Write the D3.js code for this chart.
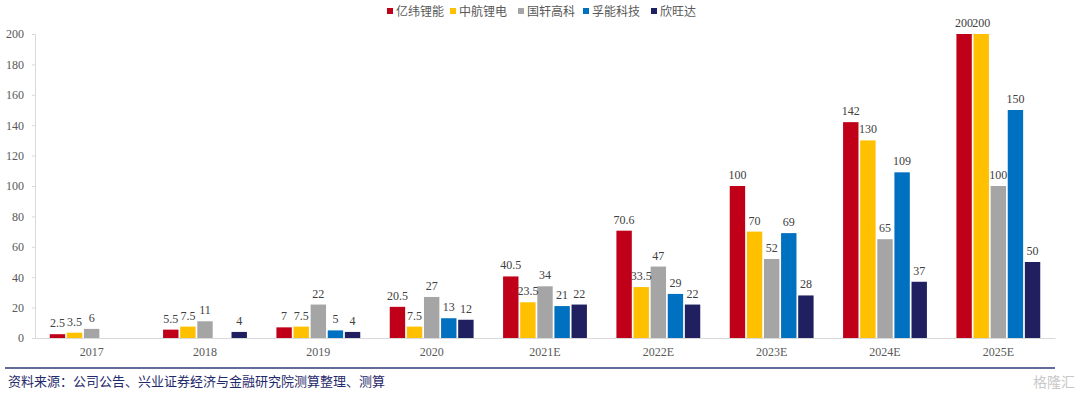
<!DOCTYPE html>
<html>
<head>
<meta charset="utf-8">
<script src="https://cdn.jsdelivr.net/npm/d3@7"></script>
<style>
  body { margin: 0; background: #fff; }
  svg { display: block; }
  .axis path, .axis line { stroke: #d9d9d9; }
</style>
</head>
<body>
<div class="chart"></div>
<script>
var categories = ['2017', '2018', '2019', '2020', '2021E', '2022E', '2023E', '2024E', '2025E'];
var seriesNames = ['亿纬锂能', '中航锂电', '国轩高科', '孚能科技', '欣旺达'];
var yiwei = [2.5, 5.5, 7, 20.5, 40.5, 70.6, 100, 142, 200];
var zhonghang = [3.5, 7.5, 7.5, 7.5, 23.5, 33.5, 70, 130, 200];
var guoxuan = [6, 11, 22, 27, 34, 47, 52, 65, 100];
var funeng = [null, null, 5, 13, 21, 29, 69, 109, 150];
var xinwangda = [null, 4, 4, 12, 22, 22, 28, 37, 50];
var yTicks = [0, 20, 40, 60, 80, 100, 120, 140, 160, 180, 200];
var colors = ['#c00018', '#ffc000', '#a5a5a5', '#0070c0', '#202060'];
var sourceText = '资料来源：公司公告、兴业证券经济与金融研究院测算整理、测算';

var allSeries = [yiwei, zhonghang, guoxuan, funeng, xinwangda];
var serif = 'Liberation Serif';
var cjk = 'Noto Sans CJK SC';

var W = 1080, H = 398;
var margin = {top: 34, right: 25, bottom: 60, left: 35},
  width = W - margin.left - margin.right,
  height = H - margin.top - margin.bottom;

var svgRoot = d3.select('.chart').append('svg')
  .attr('width', W)
  .attr('height', H);

var svg = svgRoot.append('g')
  .attr('transform', 'translate(' + margin.left + ',' + margin.top + ')');

var x = d3.scaleBand()
  .domain(categories)
  .range([0, width])
  .paddingInner(0.23)
  .paddingOuter(0.115);

var x1 = d3.scaleBand()
  .domain(seriesNames)
  .range([0, x.bandwidth()])
  .padding(0.1);

var y = d3.scaleLinear()
  .domain([0, 200])
  .range([height, 0]);

// axes
svg.append('g')
  .attr('class', 'axis')
  .call(d3.axisLeft(y).tickValues(yTicks).tickSize(3).tickPadding(8).tickFormat(d3.format('d')));

svg.append('g')
  .attr('class', 'axis')
  .attr('transform', 'translate(0,' + height + ')')
  .call(d3.axisBottom(x).tickSize(0).tickPadding(9).tickSizeOuter(0));

svg.selectAll('.axis text')
  .attr('fill', '#595959')
  .style('font-family', serif)
  .style('font-size', '12px');

// bars
var rows = [];
categories.forEach(function(c, i) {
  allSeries.forEach(function(s, j) {
    if (s[i] != null) rows.push({cat: c, name: seriesNames[j], v: s[i], k: j});
  });
});

svg.selectAll('.bar')
  .data(rows)
  .enter().append('rect')
  .attr('class', 'bar')
  .attr('x', function(d) { return x(d.cat) + x1(d.name); })
  .attr('width', x1.bandwidth())
  .attr('y', function(d) { return y(d.v); })
  .attr('height', function(d) { return height - y(d.v); })
  .attr('fill', function(d) { return colors[d.k]; });

svg.selectAll('.lbl')
  .data(rows)
  .enter().append('text')
  .attr('class', 'lbl')
  .attr('x', function(d) { return x(d.cat) + x1(d.name) + x1.bandwidth() / 2; })
  .attr('y', function(d) { return y(d.v) - 7; })
  .attr('text-anchor', 'middle')
  .attr('fill', '#404040')
  .style('font-family', serif)
  .style('font-size', '12px')
  .text(function(d) { return d.v; });

// legend
var legendPos = [387, 450, 518, 583, 651];
seriesNames.forEach(function(n, i) {
  var g = svgRoot.append('g').attr('transform', 'translate(' + legendPos[i] + ',0)');
  g.append('rect').attr('x', 0).attr('y', 8).attr('width', 6).attr('height', 6).attr('fill', colors[i]);
  g.append('text').attr('x', 9).attr('y', 16)
    .attr('fill', '#595959')
    .style('font-family', cjk)
    .style('font-size', '12px')
    .text(n);
});

// footer
svgRoot.append('line')
  .attr('x1', 5).attr('x2', 1055)
  .attr('y1', 368).attr('y2', 368)
  .attr('stroke', '#2e3a78').attr('stroke-width', 1.5);

svgRoot.append('text')
  .attr('x', 8).attr('y', 386)
  .attr('fill', '#1f2a6b')
  .style('font-family', cjk)
  .style('font-size', '13px')
  .text(sourceText);

svgRoot.append('text')
  .attr('x', 1075).attr('y', 387)
  .attr('text-anchor', 'end')
  .attr('fill', '#c8c8c8')
  .style('font-family', cjk)
  .style('font-size', '14px')
  .text('格隆汇');
</script>
</body>
</html>
